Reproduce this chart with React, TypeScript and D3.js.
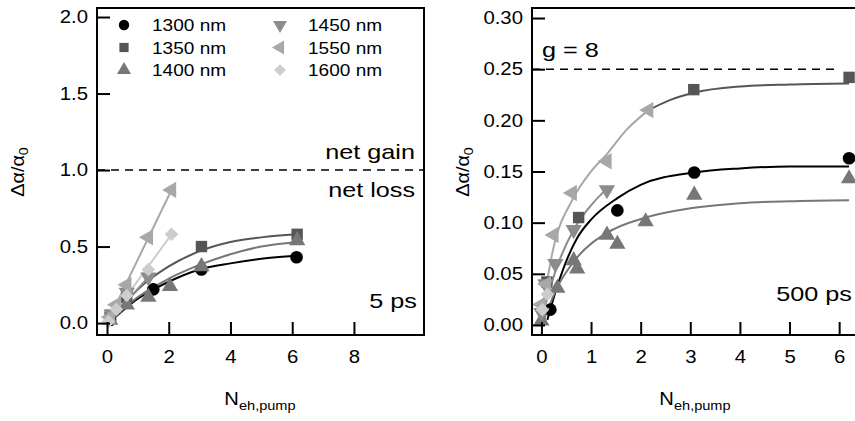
import React, { useEffect, useRef } from "react";
import * as d3 from "d3";

// ---------- data ----------
const SERIES_LABELS = ["1300 nm", "1350 nm", "1400 nm", "1450 nm", "1550 nm", "1600 nm"];

// Left panel (5 ps): measured points [N_eh,pump, Δα/α0]
const L_1300 = [[0.1, 0.02], [1.5, 0.22], [3.06, 0.35], [6.14, 0.43]];
const L_1350 = [[0.1, 0.04], [0.64, 0.17], [3.06, 0.5], [6.16, 0.58]];
const L_1400 = [[0.1, 0.02], [0.64, 0.12], [1.34, 0.17], [2.04, 0.24], [3.06, 0.37], [6.16, 0.54]];
const L_1450 = [[0.15, 0.06], [0.64, 0.2], [1.34, 0.3]];
const L_1550 = [[0.1, 0.04], [0.3, 0.12], [0.64, 0.25], [1.34, 0.56], [2.09, 0.87]];
const L_1600 = [[0.05, 0.01], [0.3, 0.09], [0.64, 0.18], [1.34, 0.35], [2.09, 0.58]];

// Left panel fit / guide curves
const L_FIT_1300 = [[0.05, 0.0], [1, 0.16], [2, 0.27], [3, 0.35], [4, 0.39], [5, 0.42], [6.14, 0.44]];
const L_FIT_1350 = [[0.05, 0.0], [1, 0.22], [2, 0.37], [3, 0.47], [4, 0.53], [5, 0.56], [6.16, 0.58]];
const L_FIT_1400 = [[0.05, 0.0], [1, 0.17], [2, 0.29], [3, 0.38], [4, 0.45], [5, 0.5], [6.16, 0.53]];
const L_FIT_1450 = [[0.0, 0.0], [1.34, 0.3]];
const L_FIT_1550 = [[0.0, 0.0], [2.09, 0.87]];
const L_FIT_1600 = [[0.0, 0.0], [2.09, 0.58]];

// Right panel (500 ps): measured points
const R_1300 = [[0.18, 0.015], [1.53, 0.112], [3.08, 0.149], [6.2, 0.163]];
const R_1350 = [[0.11, 0.042], [0.75, 0.105], [3.07, 0.23], [6.2, 0.242]];
const R_1400 = [[0.0, 0.004], [0.32, 0.036], [0.65, 0.063], [0.72, 0.055], [1.32, 0.088], [1.53, 0.079], [2.1, 0.101], [3.08, 0.127], [6.2, 0.143]];
const R_1450 = [[0.0, 0.012], [0.08, 0.04], [0.28, 0.06], [0.65, 0.093], [1.32, 0.132]];
const R_1550 = [[0.0, 0.02], [0.1, 0.04], [0.25, 0.088], [0.62, 0.129], [1.32, 0.16], [2.16, 0.21]];
const R_1600 = [[0.02, 0.015], [0.12, 0.03]];

// Right panel fit curves
const R_FIT_1300 = [[0.12, 0.005], [0.3, 0.035], [0.72, 0.085], [1, 0.103], [1.53, 0.124], [2, 0.137], [3.08, 0.149], [4, 0.153], [5, 0.155], [6.2, 0.155]];
const R_FIT_1350 = [[2.16, 0.21], [2.6, 0.22], [3.07, 0.227], [4, 0.233], [5, 0.235], [6.2, 0.236]];
const R_FIT_1400 = [[0.05, 0.005], [0.3, 0.035], [0.72, 0.066], [1.32, 0.09], [2.1, 0.105], [3, 0.114], [4, 0.119], [5, 0.121], [6.2, 0.122]];
const R_FIT_1450 = [[0.0, 0.005], [0.3, 0.055], [0.65, 0.093], [1, 0.117], [1.32, 0.133]];
const R_FIT_1550 = [[0.0, 0.01], [0.25, 0.077], [0.62, 0.122], [1, 0.15], [1.32, 0.167], [1.7, 0.19], [2.16, 0.21]];
const R_FIT_1600: number[][] = [];

const L_X_TICKS = [0, 2, 4, 6, 8];
const L_Y_TICKS = [0, 0.5, 1.0, 1.5, 2.0];
const R_X_TICKS = [0, 1, 2, 3, 4, 5, 6];
const R_Y_TICKS = [0, 0.05, 0.1, 0.15, 0.2, 0.25, 0.3];

const L_THRESHOLD = 1.0;
const R_THRESHOLD = 0.25;

// ---------- styles ----------
const COLORS = ["#000000", "#565656", "#777777", "#8c8c8c", "#a8a8a8", "#cccccc"];
const FONT = "Liberation Sans, Arial, sans-serif";

type Panel = {
  x0: number; x1: number; y0: number; y1: number;
  xDom: [number, number]; yDom: [number, number];
  xTicks: number[]; yTicks: number[]; yFmt: string;
  points: number[][][]; fits: number[][][]; linearFits: boolean[];
  threshold: number; dashEnd: number;
  yLabelX: number; xLabelX: number;
};

function symbolPath(i: number, size: number): string {
  const s = d3.symbol();
  if (i === 0) return s.type(d3.symbolCircle).size(size)()!;
  if (i === 1) return s.type(d3.symbolSquare).size(size)()!;
  if (i === 5) return s.type(d3.symbolSquare).size(size * 0.8)()!;
  return s.type(d3.symbolTriangle).size(size)()!;
}
function symbolRotation(i: number): number {
  if (i === 3) return 180;
  if (i === 4) return -90;
  if (i === 5) return 45;
  return 0;
}

export default function App() {
  const ref = useRef<SVGSVGElement>(null);

  useEffect(() => {
    const svg = d3.select(ref.current);
    svg.selectAll("*").remove();

    const panels: Panel[] = [
      {
        x0: 97, x1: 424, y0: 8, y1: 335,
        xDom: [-0.324, 10.27], yDom: [-0.078, 2.059],
        xTicks: L_X_TICKS, yTicks: L_Y_TICKS, yFmt: ".1f",
        points: [L_1300, L_1350, L_1400, L_1450, L_1550, L_1600],
        fits: [L_FIT_1300, L_FIT_1350, L_FIT_1400, L_FIT_1450, L_FIT_1550, L_FIT_1600],
        linearFits: [false, false, false, true, true, true],
        threshold: L_THRESHOLD, dashEnd: 10.27, yLabelX: 18, xLabelX: 260,
      },
      {
        x0: 532, x1: 859, y0: 8, y1: 335,
        xDom: [-0.19, 6.40], yDom: [-0.0098, 0.3098],
        xTicks: R_X_TICKS, yTicks: R_Y_TICKS, yFmt: ".2f",
        points: [R_1300, R_1350, R_1400, R_1450, R_1550, R_1600],
        fits: [R_FIT_1300, R_FIT_1350, R_FIT_1400, R_FIT_1450, R_FIT_1550, R_FIT_1600],
        linearFits: [false, false, false, false, false, false],
        threshold: R_THRESHOLD, dashEnd: 6.0, yLabelX: 463, xLabelX: 695,
      },
    ];

    panels.forEach((p) => {
      const x = d3.scaleLinear().domain(p.xDom).range([p.x0, p.x1]);
      const y = d3.scaleLinear().domain(p.yDom).range([p.y1, p.y0]);
      const g = svg.append("g");

      // threshold dashed line
      g.append("line")
        .attr("x1", p.x0).attr("x2", x(p.dashEnd))
        .attr("y1", y(p.threshold)).attr("y2", y(p.threshold))
        .attr("stroke", "#000").attr("stroke-width", 1.6)
        .attr("stroke-dasharray", "8,6");

      // fits
      p.fits.forEach((f, i) => {
        if (f.length < 2) return;
        const line = d3.line<number[]>()
          .x((d) => x(d[0])).y((d) => y(d[1]))
          .curve(p.linearFits[i] ? d3.curveLinear : d3.curveMonotoneX);
        g.append("path").attr("d", line(f as any)!)
          .attr("fill", "none").attr("stroke", COLORS[i]).attr("stroke-width", 2);
      });

      // markers
      p.points.forEach((pts, i) => {
        g.append("g").selectAll("path").data(pts).join("path")
          .attr("d", symbolPath(i, i === 0 ? 125 : i === 1 ? 130 : 115))
          .attr("transform", (d) => `translate(${x(d[0])},${y(d[1])}) rotate(${symbolRotation(i)})`)
          .attr("fill", COLORS[i]);
      });

      // frame
      g.append("path")
        .attr("d", `M${p.x0},${p.y0}H${p.x1}V${p.y1}H${p.x0}Z`)
        .attr("fill", "none").attr("stroke", "#000").attr("stroke-width", 2);

      // axes (inward ticks)
      const ax = g.append("g").attr("transform", `translate(0,${p.y1})`)
        .call(d3.axisBottom(x).tickValues(p.xTicks).tickFormat(d3.format("d")).tickSize(-13).tickSizeOuter(0).tickPadding(15));
      const ay = g.append("g").attr("transform", `translate(${p.x0},0)`)
        .call(d3.axisLeft(y).tickValues(p.yTicks).tickFormat(d3.format(p.yFmt)).tickSize(-13).tickSizeOuter(0).tickPadding(9));
      [ax, ay].forEach((a) => {
        a.select(".domain").remove();
        a.selectAll("line").attr("stroke", "#000").attr("stroke-width", 2);
        a.selectAll("text").attr("font-family", FONT).attr("font-size", 18).attr("fill", "#000")
          .attr("data-stretch", 1.13);
      });

      // y label
      const yl = g.append("text")
        .attr("transform", `translate(${p.yLabelX + 6},${172}) rotate(-90)`)
        .attr("text-anchor", "middle").attr("font-family", FONT).attr("font-size", 18)
        .attr("data-stretch", 1.1);
      yl.append("tspan").text("Δα/α");
      yl.append("tspan").attr("font-size", 13).attr("dy", 4).text("0");

      // x label
      const xl = g.append("text")
        .attr("x", p.xLabelX).attr("y", 405)
        .attr("text-anchor", "middle").attr("font-family", FONT).attr("font-size", 18)
        .attr("data-stretch", 1.12);
      xl.append("tspan").text("N");
      xl.append("tspan").attr("font-size", 13).attr("dy", 5).text("eh,pump");
    });

    // annotations
    const ann = (t: string, xx: number, yy: number, anchor: string) =>
      svg.append("text").attr("x", xx).attr("y", yy).attr("text-anchor", anchor)
        .attr("font-family", FONT).attr("font-size", 21).attr("data-stretch", 1.2).text(t);
    ann("net gain", 415, 159, "end");
    ann("net loss", 415, 197, "end");
    ann("5 ps", 417, 308, "end");
    ann("500 ps", 852, 301, "end");
    ann("g = 8", 542, 57, "start");

    // legend
    const lg = svg.append("g");
    SERIES_LABELS.forEach((lab, i) => {
      const col = Math.floor(i / 3);
      const row = i % 3;
      const sx = col === 0 ? 124 : 280;
      const sy = 25 + row * 22.5;
      lg.append("path")
        .attr("d", symbolPath(i, 85))
        .attr("transform", `translate(${sx},${sy}) rotate(${symbolRotation(i)})`)
        .attr("fill", COLORS[i]);
      lg.append("text").attr("x", sx + 28).attr("y", sy + 6)
        .attr("font-family", FONT).attr("font-size", 17).attr("data-stretch", 1.12).text(lab);
    });

    // horizontal stretch of glyphs to match the reference typography
    svg.selectAll<SVGTextElement, unknown>("text").each(function () {
      const s = +(this.getAttribute("data-stretch") || 1);
      if (s !== 1) {
        const w = this.getComputedTextLength();
        this.setAttribute("textLength", String(w * s));
        this.setAttribute("lengthAdjust", "spacingAndGlyphs");
      }
    });
  }, []);

  return (
    <svg ref={ref} width={855} height={421}
      style={{ position: "absolute", left: 0, top: 0, background: "#fff" }} />
  );
}
